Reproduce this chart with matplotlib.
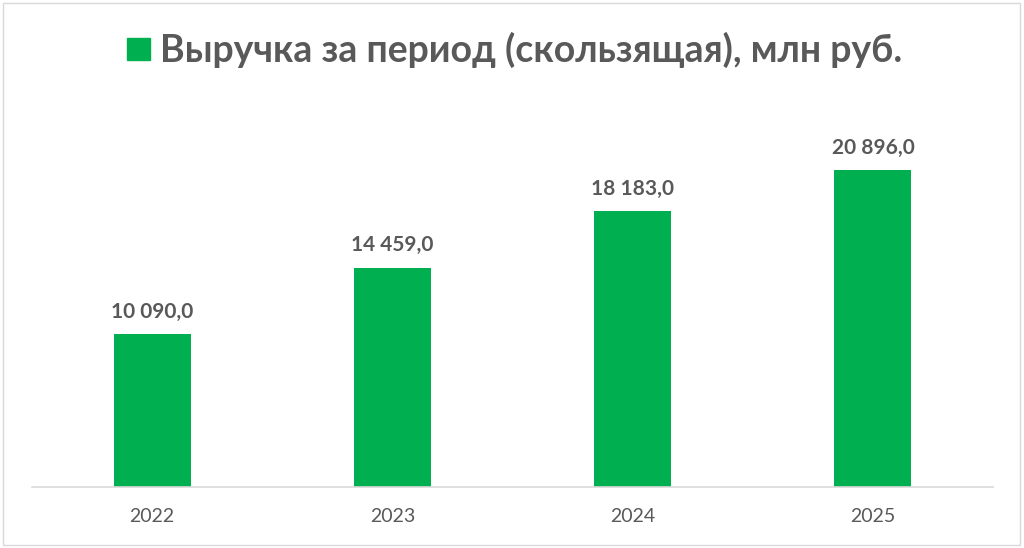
import matplotlib
matplotlib.use("Agg")
from matplotlib import pyplot as plt
from matplotlib.patches import Rectangle

years = ["2022", "2023", "2024", "2025"]
revenue = [10090.0, 14459.0, 18183.0, 20896.0]
labels = ["10 090,0", "14 459,0", "18 183,0", "20 896,0"]

green = "#00B050"
grey = "#595959"

plt.rcParams['font.family'] = ['Lato', 'DejaVu Sans']

fig = plt.figure(figsize=(10.24, 5.48), dpi=100)
ax = fig.add_axes([32/1024, 1 - 487/548, 961/1024, 379/548])

x = range(len(years))
ax.bar(x, revenue, width=0.32, color=green, zorder=2)
for xi, v, lab in zip(x, revenue, labels):
    ax.annotate(lab, (xi, v), xytext=(0, 9), textcoords="offset points",
                ha="center", va="bottom", fontsize=15, fontweight="bold", color=grey)

ax.set_xlim(-0.5, 3.5)
ax.set_ylim(0, 25000)
ax.set_xticks(list(x))
ax.set_xticklabels(years, fontsize=14, color=grey)
ax.tick_params(axis="x", length=0, pad=15)
ax.set_yticks([])
for s in ["top", "left", "right"]:
    ax.spines[s].set_visible(False)
ax.spines["bottom"].set_color("#D9D9D9")
ax.spines["bottom"].set_linewidth(1.2)

# title with legend marker
fig.patches.append(Rectangle((127/1024, 1 - 60/548), 23/1024, 22/548,
                             transform=fig.transFigure, color=green))
fig.text(160/1024, 1 - 50/548, "Выручка за период (скользящая), млн руб.",
         fontsize=27, fontweight="bold", color=grey, ha="left", va="center")

# chart border
fig.patches.append(Rectangle((3/1024, 3/548), 1017/1024, 542/548,
                             transform=fig.transFigure, fill=False,
                             edgecolor="#D9D9D9", linewidth=1))

fig.savefig("out.png", dpi=100)
